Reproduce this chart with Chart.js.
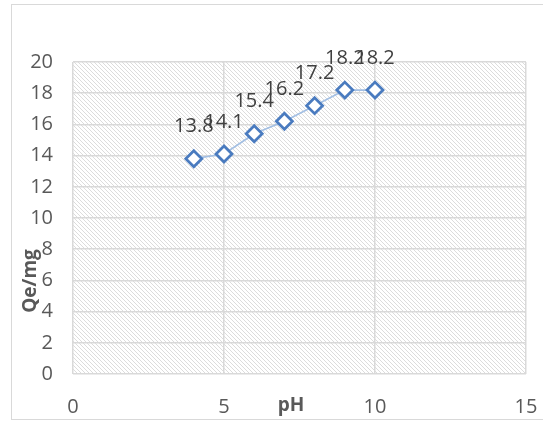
<!DOCTYPE html>
<html lang="en">
<head>
    <meta charset="UTF-8">
    <title>Qe vs pH</title>
    <script src="https://cdn.jsdelivr.net/npm/chart.js"></script>
    <style>
        html, body { margin: 0; padding: 0; background: #fff; }
        #wrap { width: 543px; height: 422px; }
    </style>
</head>
<body>
    <div id="wrap"><canvas id="chart" width="543" height="422"></canvas></div>

    <script>
        // data
        const phValues = [4, 5, 6, 7, 8, 9, 10];
        const qeValues = [13.8, 14.1, 15.4, 16.2, 17.2, 18.2, 18.2];
        const xTicks = [0, 5, 10, 15];
        const yTicks = [0, 2, 4, 6, 8, 10, 12, 14, 16, 18, 20];
        const xTitle = 'pH';
        const yTitle = 'Qe/mg';

        const FONT = "'Open Sans', 'Liberation Sans', sans-serif";

        // light downward diagonal hatch, like the office fill
        function makeHatch(ctx) {
            const tile = document.createElement('canvas');
            tile.width = 4; tile.height = 4;
            const t = tile.getContext('2d');
            t.fillStyle = '#ffffff';
            t.fillRect(0, 0, 4, 4);
            t.fillStyle = '#dcdcdc';
            for (let i = 0; i < 4; i++) t.fillRect(i, i, 1, 1);
            return ctx.createPattern(tile, 'repeat');
        }

        const decor = {
            id: 'decor',
            beforeDraw(chart) {
                const { ctx, chartArea: a } = chart;
                ctx.save();
                ctx.fillStyle = '#fff';
                ctx.fillRect(0, 0, chart.width, chart.height);
                ctx.fillStyle = makeHatch(ctx);
                ctx.fillRect(a.left, a.top, a.right - a.left, a.bottom - a.top);
                ctx.restore();
            },
            afterDraw(chart) {
                const { ctx } = chart;
                const meta = chart.getDatasetMeta(0);
                ctx.save();
                // outer frame
                ctx.strokeStyle = '#d9d9d9';
                ctx.lineWidth = 1;
                ctx.strokeRect(11.5, 4.5, 545, 415);

                // data labels
                ctx.fillStyle = '#404040';
                ctx.font = '20px ' + FONT;
                ctx.textAlign = 'center';
                ctx.textBaseline = 'middle';
                meta.data.forEach((pt, i) => {
                    ctx.fillText(qeValues[i].toFixed(1), pt.x, pt.y - 32);
                });

                // axis titles drawn over the tick area like the original
                ctx.fillStyle = '#595959';
                ctx.font = 'bold 19px ' + FONT;
                ctx.fillText(xTitle, 291, 406);
                ctx.translate(31, 281);
                ctx.rotate(-Math.PI / 2);
                ctx.fillText(yTitle, 0, 0);
                ctx.restore();
            }
        };

        new Chart(document.getElementById('chart'), {
            type: 'scatter',
            data: {
                datasets: [{
                    data: phValues.map((x, i) => ({ x: x, y: qeValues[i] })),
                    showLine: true,
                    borderColor: '#a3bfe3',
                    borderWidth: 1.75,
                    pointStyle: 'rectRot',
                    pointRadius: 8,
                    pointHoverRadius: 8,
                    pointBorderWidth: 2.75,
                    pointBorderColor: '#4a7bbf',
                    pointBackgroundColor: '#ffffff'
                }]
            },
            options: {
                responsive: false,
                animation: false,
                events: [],
                layout: { padding: { left: 0, top: 62, right: 17, bottom: 0 } },
                plugins: { legend: { display: false }, tooltip: { enabled: false } },
                scales: {
                    x: {
                        type: 'linear',
                        min: 0, max: 15,
                        afterBuildTicks: s => { s.ticks = xTicks.map(v => ({ value: v })); },
                        afterFit: s => { s.height = 48; s.paddingLeft = 0; s.paddingRight = 0; },
                        border: { display: false },
                        grid: { color: '#d9d9d9', lineWidth: 1.5, drawTicks: false },
                        ticks: { padding: 21, color: '#595959', font: { family: FONT, size: 20 } }
                    },
                    y: {
                        min: 0, max: 20,
                        afterBuildTicks: s => { s.ticks = yTicks.map(v => ({ value: v })); },
                        afterFit: s => { s.width = 73; s.paddingTop = 0; s.paddingBottom = 0; },
                        border: { display: false },
                        grid: { color: '#d9d9d9', lineWidth: 1.5, drawTicks: false },
                        ticks: { padding: 20, color: '#595959', font: { family: FONT, size: 20 } }
                    }
                }
            },
            plugins: [decor]
        });
    </script>
</body>
</html>
